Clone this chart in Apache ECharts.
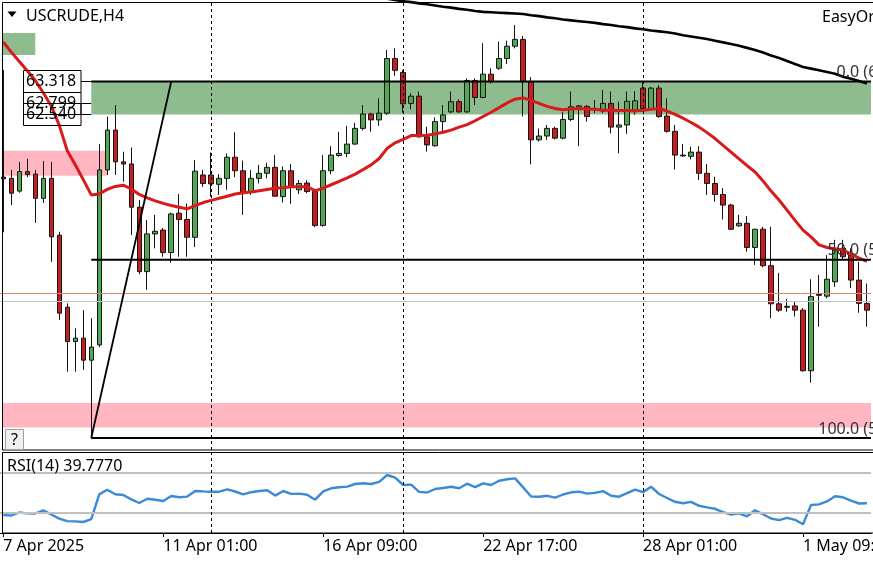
<!DOCTYPE html>
<html>
<head>
<meta charset="utf-8">
<title>USCRUDE,H4</title>
<script src="https://cdn.jsdelivr.net/npm/echarts@6.0.0/dist/echarts.min.js"></script>
<style>
  html, body { margin: 0; padding: 0; background: #fff; }
  #chart { width: 873px; height: 562px; }
</style>
</head>
<body>
<div id="chart"></div>
<script>
// H4 bars, bar 0 = first bar of 7 Apr 2025
const open = [
  61.06, 61.03, 60.73, 61.19, 61.13, 60.56, 61.03, 59.69, 57.99, 57.18,
  57.26, 56.74, 57.10, 61.23, 62.17, 61.42, 61.37, 60.35, 58.83, 59.72,
  59.81, 59.28, 60.21, 60.06, 59.64, 61.11, 61.11, 60.89, 61.03, 61.53,
  61.21, 60.72, 61.03, 61.15, 61.29, 60.60, 61.21, 60.76, 60.92, 60.72,
  59.92, 61.21, 61.57, 61.62, 61.84, 62.21, 62.55, 62.41, 62.57, 63.86,
  63.53, 62.80, 62.97, 62.01, 61.80, 62.37, 62.60, 62.84, 62.60, 63.34,
  62.94, 63.49, 63.63, 63.86, 64.15, 64.31, 63.31, 61.94, 62.03, 62.21,
  61.98, 62.42, 62.71, 62.73, 62.67, 62.62, 62.80, 62.24, 62.29, 62.64,
  63.16, 62.68, 63.16, 62.50, 62.14, 61.58, 61.55, 61.65, 61.15, 60.91,
  60.65, 60.40, 59.91, 59.97, 59.40, 59.83, 58.97, 58.07, 58.01, 58.02,
  57.92, 56.49, 58.27, 58.25, 58.59, 59.38, 59.22, 58.63, 58.08
];
const high = [
  63.59, 61.23, 61.42, 61.49, 61.23, 61.44, 61.42, 59.77, 58.08, 57.49,
  57.92, 57.73, 61.84, 62.49, 62.76, 61.66, 61.76, 60.52, 60.05, 60.17,
  59.86, 60.22, 60.66, 60.44, 61.46, 61.23, 61.64, 61.13, 61.62, 62.12,
  61.45, 61.23, 61.35, 61.40, 61.58, 61.31, 61.37, 60.99, 60.99, 60.76,
  61.58, 61.79, 62.13, 62.27, 62.34, 62.76, 62.58, 62.92, 64.06, 64.10,
  63.59, 63.04, 63.08, 62.25, 62.47, 62.76, 63.08, 62.90, 63.39, 63.39,
  64.22, 63.63, 64.26, 64.28, 64.65, 64.39, 63.42, 62.21, 62.29, 62.25,
  62.60, 63.08, 62.76, 62.76, 62.88, 63.12, 63.08, 62.84, 63.08, 63.09,
  63.31, 63.19, 63.23, 62.92, 62.29, 61.84, 61.78, 61.79, 61.37, 61.07,
  60.80, 60.43, 60.17, 60.14, 59.84, 59.89, 59.89, 58.80, 58.18, 58.12,
  57.97, 58.65, 58.75, 59.22, 59.58, 59.58, 59.38, 59.06, 58.55
];
const low = [
  59.76, 60.40, 60.69, 61.06, 59.98, 60.45, 59.06, 57.69, 56.47, 56.47,
  56.51, 54.90, 57.05, 61.11, 61.11, 60.95, 59.69, 58.77, 58.40, 59.38,
  59.18, 59.04, 59.18, 59.18, 59.41, 60.83, 60.60, 60.64, 60.76, 61.06,
  60.17, 60.64, 60.91, 61.03, 60.60, 60.46, 60.43, 60.66, 60.68, 59.88,
  59.89, 61.13, 61.54, 61.53, 61.82, 62.16, 62.13, 62.27, 62.53, 63.45,
  62.58, 62.66, 62.00, 61.66, 61.78, 62.13, 62.57, 62.58, 62.58, 62.76,
  62.92, 63.27, 63.59, 63.73, 64.10, 62.49, 61.36, 61.90, 61.94, 61.95,
  61.95, 62.38, 61.79, 62.37, 62.57, 62.57, 62.09, 61.62, 62.08, 62.53,
  62.64, 62.66, 62.46, 62.11, 61.24, 61.54, 61.48, 60.99, 60.64, 60.48,
  60.06, 59.81, 59.89, 59.30, 58.99, 58.93, 57.73, 57.88, 57.88, 57.77,
  56.47, 56.21, 57.53, 58.20, 58.47, 59.10, 58.44, 57.86, 57.53
];
const close = [
  61.02, 60.68, 61.19, 61.12, 60.56, 61.03, 59.65, 57.85, 57.18, 57.26,
  56.74, 57.05, 61.23, 62.17, 61.42, 61.37, 60.35, 58.83, 59.72, 59.78,
  59.28, 60.19, 60.06, 59.64, 61.20, 60.91, 60.90, 61.03, 61.53, 61.21,
  60.69, 61.03, 61.15, 61.29, 60.61, 61.21, 60.82, 60.91, 60.72, 59.92,
  61.21, 61.58, 61.62, 61.84, 62.21, 62.55, 62.41, 62.57, 63.86, 63.58,
  62.79, 62.97, 62.01, 61.82, 62.37, 62.53, 62.84, 62.60, 63.34, 62.94,
  63.49, 63.31, 63.86, 64.15, 64.31, 63.31, 61.94, 62.03, 62.21, 61.98,
  62.42, 62.72, 62.74, 62.49, 62.65, 62.80, 62.24, 62.29, 62.85, 62.86,
  62.68, 63.16, 62.49, 62.14, 61.58, 61.56, 61.65, 61.15, 60.91, 60.65,
  60.40, 59.83, 59.97, 59.40, 59.83, 58.97, 58.07, 57.92, 57.99, 57.92,
  56.49, 58.24, 58.29, 58.65, 59.34, 59.18, 58.63, 58.08, 57.92
];

// moving averages as drawn (red = fast, black = slow)
const maFast = [
  64.25, 64.01, 63.79, 63.57, 63.34, 63.05, 62.74, 62.28, 61.68, 61.35,
  61.00, 60.64, 60.66, 60.77, 60.84, 60.87, 60.78, 60.65, 60.57, 60.50,
  60.44, 60.39, 60.35, 60.31, 60.39, 60.46, 60.51, 60.56, 60.61, 60.66,
  60.69, 60.71, 60.74, 60.77, 60.80, 60.81, 60.83, 60.83, 60.83, 60.74,
  60.80, 60.88, 60.96, 61.04, 61.13, 61.24, 61.35, 61.50, 61.74, 61.87,
  61.95, 62.04, 62.04, 62.05, 62.08, 62.12, 62.17, 62.24, 62.30, 62.39,
  62.49, 62.59, 62.70, 62.81, 62.90, 62.93, 62.87, 62.80, 62.73, 62.68,
  62.65, 62.67, 62.68, 62.67, 62.66, 62.64, 62.64, 62.63, 62.63, 62.62,
  62.64, 62.66, 62.68, 62.62, 62.54, 62.45, 62.35, 62.24, 62.11, 61.97,
  61.81, 61.65, 61.49, 61.33, 61.18, 60.97, 60.73, 60.52, 60.28, 60.04,
  59.81, 59.65, 59.46, 59.40, 59.37, 59.34, 59.25, 59.15, 59.07
];
const maSlow = [
  null, null, null, null, null, null, null, null, null, null,
  null, null, null, null, null, null, null, null, null, null,
  null, null, null, null, null, null, null, null, null, null,
  null, null, null, null, null, null, null, null, null, null,
  null, null, null, null, null, null, 65.32, 65.29, 65.27, 65.24,
  65.21, 65.19, 65.16, 65.14, 65.11, 65.08, 65.06, 65.03, 65.01, 64.98,
  64.96, 64.95, 64.94, 64.93, 64.92, 64.91, 64.88, 64.86, 64.83, 64.81,
  64.78, 64.76, 64.74, 64.72, 64.70, 64.67, 64.65, 64.62, 64.60, 64.57,
  64.55, 64.52, 64.50, 64.48, 64.45, 64.41, 64.38, 64.35, 64.32, 64.28,
  64.24, 64.20, 64.16, 64.11, 64.06, 64.00, 63.93, 63.87, 63.80, 63.73,
  63.66, 63.62, 63.58, 63.54, 63.50, 63.43, 63.38, 63.33, 63.27
];

// RSI(14)
const rsi = [
  28.0, 27.5, 30.5, 29.6, 29.5, 32.7, 28.5, 24.4, 21.9, 21.6,
  21.0, 23.8, 48.6, 53.3, 48.7, 48.0, 43.6, 40.0, 44.3, 43.3,
  42.0, 47.0, 45.8, 46.4, 52.0, 51.6, 51.3, 51.3, 53.7, 51.5,
  48.7, 50.8, 52.0, 52.8, 47.4, 52.0, 49.1, 49.4, 48.2, 43.3,
  51.6, 54.7, 55.8, 56.4, 59.0, 59.8, 59.0, 61.1, 68.0, 65.3,
  58.0, 58.4, 51.1, 50.5, 54.0, 55.0, 56.3, 54.7, 59.3, 55.8,
  59.7, 58.0, 62.3, 63.8, 64.6, 55.6, 46.5, 46.2, 47.2, 45.4,
  48.5, 50.7, 51.3, 49.4, 50.1, 51.9, 47.2, 46.3, 49.8, 53.4,
  50.8, 56.3, 49.0, 45.0, 41.2, 39.8, 41.1, 37.2, 35.6, 34.2,
  30.9, 28.4, 29.7, 26.7, 32.8, 28.8, 24.5, 22.9, 25.2, 23.2,
  18.7, 38.0, 38.6, 41.6, 46.8, 45.7, 42.4, 39.5, 39.777
];
const rsiLevels = [70, 30];

const tickIndex = [0, 20, 40, 60, 80, 100];
const tickLabels = ['7 Apr 2025', '11 Apr 01:00', '16 Apr 09:00', '22 Apr 17:00', '28 Apr 01:00', '1 May 09:00'];
const separators = [26, 50, 80];

// fibo from the bar 11 low up to 63.318
const fiboStart = 11;
const fiboLevels = [63.318, 59.110, 54.902];
const fiboNames = ['0.0 (63.318)', '50.0 (59.110)', '100.0 (54.902)'];
const trendLine = [[11, 54.902], [21, 63.318]];

// zones: start / end bar (-1 = edge of chart), top, bottom, kind
const zoneStart = [-1, 11, -1, -1];
const zoneEnd = [4, -1, 13, -1];
const zoneTop = [64.46, 63.318, 61.68, 55.73];
const zoneBottom = [63.94, 62.540, 61.09, 55.15];
const zoneKind = ['buy', 'buy', 'sell', 'sell'];

const priceLabels = [63.318, 62.799, 62.540];
const askLine = 58.33;
const bidLine = 58.13;

const cats = open.map((_, i) => String(i));
const candles = open.map((o, i) => [o, close[i], low[i], high[i]]);
const zoneColor = { buy: '#8fbc8f', sell: '#ffb6c1' };
const FONT = '16px "Noto Sans"';

const chart = echarts.init(document.getElementById('chart'));

function renderZone(params, api) {
  const cs = params.coordSys;
  const s = api.value(0), e = api.value(1);
  const x0 = s < 0 ? cs.x + 3 : api.coord([s, 0])[0];
  const x1 = e < 0 ? cs.x + cs.width : api.coord([e, 0])[0];
  const y0 = api.coord([0, api.value(2)])[1];
  const y1 = api.coord([0, api.value(3)])[1];
  return {
    type: 'rect',
    shape: { x: x0, y: y0, width: x1 - x0, height: y1 - y0 },
    style: { fill: zoneColor[zoneKind[params.dataIndex]] }
  };
}

function renderFibo(params, api) {
  const cs = params.coordSys;
  const p = api.coord([api.value(0), api.value(1)]);
  return {
    type: 'line',
    shape: { x1: p[0], y1: p[1], x2: cs.x + cs.width, y2: p[1] },
    style: { stroke: '#000', lineWidth: 2 }
  };
}

const option = {
  animation: false,
  backgroundColor: '#fff',
  grid: [
    { left: -0.7, right: 2, top: 0, height: 450, outerBoundsMode: 'none', containLabel: false },
    { left: -0.7, right: 2, top: 453, height: 80, outerBoundsMode: 'none', containLabel: false }
  ],
  xAxis: [
    { type: 'category', gridIndex: 0, data: cats, show: false },
    {
      type: 'category', gridIndex: 1, data: cats,
      axisLine: { lineStyle: { color: '#000', width: 1 } },
      axisTick: {
        show: true, alignWithLabel: true, length: 4,
        interval: (i) => tickIndex.includes(i),
        lineStyle: { color: '#000' }
      },
      axisLabel: {
        interval: (i) => tickIndex.includes(i),
        formatter: (v, i) => tickLabels[tickIndex.indexOf(i)],
        align: 'left', margin: 5, hideOverlap: false,
        fontSize: 16, fontFamily: 'Noto Sans', color: '#000'
      },
      splitLine: { show: false }
    }
  ],
  yAxis: [
    { type: 'value', gridIndex: 0, min: 54.62, max: 65.24, show: false },
    { type: 'value', gridIndex: 1, min: 10, max: 90, show: false }
  ],
  series: [
    {
      type: 'custom', name: 'zones', z: 1,
      xAxisIndex: 0, yAxisIndex: 0,
      renderItem: renderZone,
      encode: { x: 0, y: 2 },
      data: zoneStart.map((s, i) => [s, zoneEnd[i], zoneTop[i], zoneBottom[i]])
    },
    {
      type: 'candlestick', name: 'USCRUDE', z: 3,
      xAxisIndex: 0, yAxisIndex: 0,
      data: candles,
      barWidth: 5,
      itemStyle: {
        color: '#52a852', color0: '#c41e1e',
        borderColor: '#141414', borderColor0: '#141414', borderWidth: 1
      },
      markLine: {
        silent: true, symbol: ['none', 'none'], label: { show: false },
        data: [
          ...separators.map((s) => ({ xAxis: s, lineStyle: { color: '#000', width: 1, type: [3, 3] } })),
          { yAxis: askLine, lineStyle: { color: '#e0876a', width: 1, type: 'solid' } },
          { yAxis: bidLine, lineStyle: { color: '#bcc6cc', width: 1, type: 'solid' } }
        ]
      }
    },
    {
      type: 'line', name: 'MA fast', z: 4,
      xAxisIndex: 0, yAxisIndex: 0,
      data: maFast, symbol: 'none',
      lineStyle: { color: '#d91a1a', width: 3 }
    },
    {
      type: 'line', name: 'MA slow', z: 4,
      xAxisIndex: 0, yAxisIndex: 0,
      data: maSlow, symbol: 'none',
      lineStyle: { color: '#000', width: 2.6 }
    },
    {
      type: 'custom', name: 'fibo', z: 5,
      xAxisIndex: 0, yAxisIndex: 0,
      renderItem: renderFibo,
      encode: { x: 0, y: 1 },
      data: fiboLevels.map((v) => [fiboStart, v])
    },
    {
      type: 'line', name: 'trend', z: 5,
      xAxisIndex: 0, yAxisIndex: 0,
      data: trendLine, symbol: 'none',
      lineStyle: { color: '#000', width: 1.8 }
    },
    {
      type: 'line', name: 'RSI(14)', z: 4,
      xAxisIndex: 1, yAxisIndex: 1,
      data: rsi, symbol: 'none',
      lineStyle: { color: '#3b8ad6', width: 2.4 },
      markLine: {
        silent: true, symbol: ['none', 'none'], label: { show: false },
        data: [
          ...rsiLevels.map((v) => ({ yAxis: v, lineStyle: { color: '#c0c0c0', width: 2, type: 'solid' } })),
          ...separators.map((s) => ({ xAxis: s, lineStyle: { color: '#000', width: 1, type: [3, 3] } }))
        ]
      }
    }
  ]
};

chart.setOption(option);

// overlay texts and frames, placed with the chart's own scale
const py = (v) => chart.convertToPixel({ gridIndex: 0 }, [0, v])[1];
const zoneX = chart.convertToPixel({ gridIndex: 0 }, [fiboStart, 0])[0];
const graphic = [
  { type: 'rect', z: 100, shape: { x: 2.5, y: 2.5, width: 880, height: 447.5 }, style: { fill: 'none', stroke: '#000', lineWidth: 1 } },
  { type: 'rect', z: 100, shape: { x: 2.5, y: 452.5, width: 880, height: 80.5 }, style: { fill: 'none', stroke: '#000', lineWidth: 1 } },
  { type: 'polygon', z: 100, shape: { points: [[7.5, 11.5], [16.5, 11.5], [12, 17]] }, style: { fill: '#000' } },
  { type: 'text', z: 100, x: 26, y: 16, style: { text: 'USCRUDE,H4', font: FONT, fill: '#000', verticalAlign: 'middle' } },
  { type: 'text', z: 100, x: 822, y: 17, style: { text: 'EasyOrder', font: FONT, fill: '#000', verticalAlign: 'middle' } },
  { type: 'text', z: 100, x: 7, y: 466, style: { text: 'RSI(14) ' + rsi[rsi.length - 1].toFixed(4), font: FONT, fill: '#000', verticalAlign: 'middle' } },
  { type: 'rect', z: 100, shape: { x: 5.5, y: 429.5, width: 18, height: 20 }, style: { fill: '#f0f0f0', stroke: '#a0a0a0', lineWidth: 1 } },
  { type: 'text', z: 101, x: 14.5, y: 440, style: { text: '?', font: FONT, fill: '#000', align: 'center', verticalAlign: 'middle' } }
];
priceLabels.forEach((v) => {
  const y = Math.round(py(v)) + 0.5;
  graphic.push(
    { type: 'line', z: 100, shape: { x1: 81, y1: y, x2: zoneX, y2: y }, style: { stroke: '#000', lineWidth: 1 } },
    { type: 'rect', z: 100, shape: { x: 23.5, y: y - 11, width: 57.5, height: 22 }, style: { fill: 'none', stroke: '#000', lineWidth: 1 } },
    { type: 'text', z: 101, x: 26, y: y, style: { text: v.toFixed(3), font: FONT, fill: '#000', verticalAlign: 'middle' } }
  );
});
// fibo level captions end just past the right edge
fiboLevels.forEach((v, i) => {
  graphic.push({ type: 'text', z: 101, x: 923, y: py(v) - 9, style: { text: fiboNames[i], font: FONT, fill: '#333', align: 'right', verticalAlign: 'middle' } });
});
chart.setOption({ graphic: graphic });
</script>
</body>
</html>
